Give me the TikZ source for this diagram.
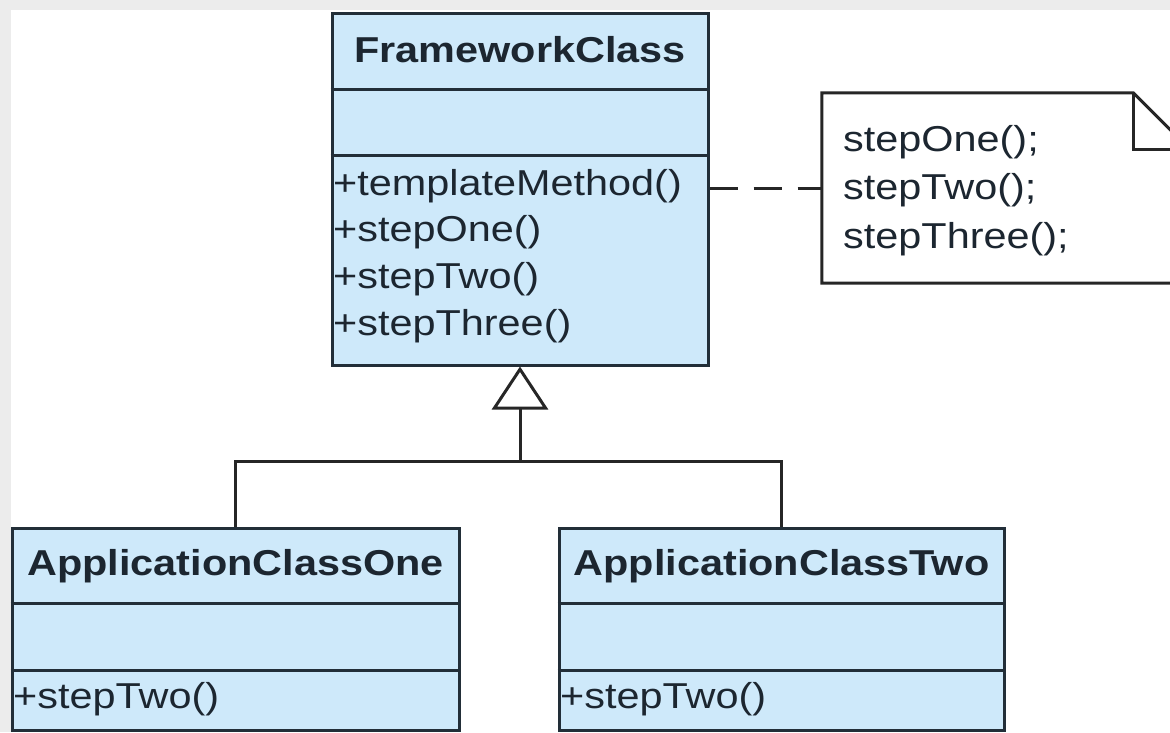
\documentclass[tikz,border=0pt]{standalone}
\usepackage{fontspec}
\setmainfont{Liberation Sans}[FakeStretch=1.15]
\usetikzlibrary{arrows.meta}
\definecolor{classfill}{RGB}{206,233,250}
\definecolor{classline}{RGB}{34,46,56}
\definecolor{classtext}{RGB}{28,38,48}
\definecolor{hatter}{RGB}{236,236,236}

\begin{document}
\begin{tikzpicture}[x=1pt, y=-1pt,
every node/.style={font=\fontsize{36}{47}\selectfont},
classbox/.style={draw=classline, fill=classfill, line width=3pt, inner sep=0},
notebox/.style={inner sep=0, minimum width=368pt, minimum height=190pt},
notefold/.style={draw=black!85, fill=white, line width=3pt, line join=miter},
compartment/.style={draw=classline, line width=3pt},
cim/.style={inner sep=0, anchor=base, font=\fontsize{36}{47}\selectfont\bfseries, text=classtext},
member/.style={inner sep=0, anchor=base west, text=classtext},
inherit/.style={draw=black!85, line width=3pt},
realize/.style={draw=black!85, line width=3pt, dash pattern=on 28pt off 16pt}]
\useasboundingbox (0,0) rectangle (1170,732);
\clip (0,0) rectangle (1170,732);
\fill[hatter] (0,0) rectangle (1170,732);
\fill[white] (11,10) rectangle (1170,732);

% classes
\node[classbox, minimum width=376pt, minimum height=352pt] (fw) at (520,189) {};
\node[classbox, minimum width=447pt, minimum height=202pt] (appone) at (235.5,629) {};
\node[classbox, minimum width=445pt, minimum height=202pt] (apptwo) at (781.5,629) {};
\draw[compartment] (fw.west |- 0,89) -- (fw.east |- 0,89);
\draw[compartment] (fw.west |- 0,155) -- (fw.east |- 0,155);
\draw[compartment] (appone.west |- 0,603) -- (appone.east |- 0,603);
\draw[compartment] (appone.west |- 0,670) -- (appone.east |- 0,670);
\draw[compartment] (apptwo.west |- 0,603) -- (apptwo.east |- 0,603);
\draw[compartment] (apptwo.west |- 0,670) -- (apptwo.east |- 0,670);

\node[cim] (fwtitle) at (fw.north |- 0,62) {FrameworkClass};
\node[member] (fwm1) at (333,195) {+templateMethod()};
\node[member] (fwm2) at (333,241) {+stepOne()};
\node[member] (fwm3) at (333,288) {+stepTwo()};
\node[member] (fwm4) at (333,335) {+stepThree()};
\node[cim] (apponetitle) at (appone.north |- 0,575) {ApplicationClassOne};
\node[member] (apponem1) at (13,708) {+stepTwo()};
\node[cim] (apptwotitle) at (apptwo.north |- 0,575) {ApplicationClassTwo};
\node[member] (apptwom1) at (560,708) {+stepTwo()};

% note
\node[notebox] (note) at (1006,188) {};
\draw[notefold] (note.south west) -- (note.north west) -- ([xshift=-57pt]note.north east)
  -- ([yshift=-57pt]note.north east) -- (note.south east) -- cycle;
\draw[notefold, fill=none] ([xshift=-57pt]note.north east) -- ([xshift=-57pt, yshift=-57pt]note.north east)
  -- ([yshift=-57pt]note.north east);
\node[member] (note1) at (843,151) {stepOne();};
\node[member] (note2) at (843,199) {stepTwo();};
\node[member] (note3) at (843,248) {stepThree();};
\draw[realize] (fw.east |- note.west) -- (note.west);

% generalization
\coordinate (join) at (520,461);
\draw[inherit] (appone.north) |- (join) -| (apptwo.north);
\draw[inherit, -{Triangle[open, width=56pt, length=43pt]}] (join) -- (fw.south);
\end{tikzpicture}
\end{document}
